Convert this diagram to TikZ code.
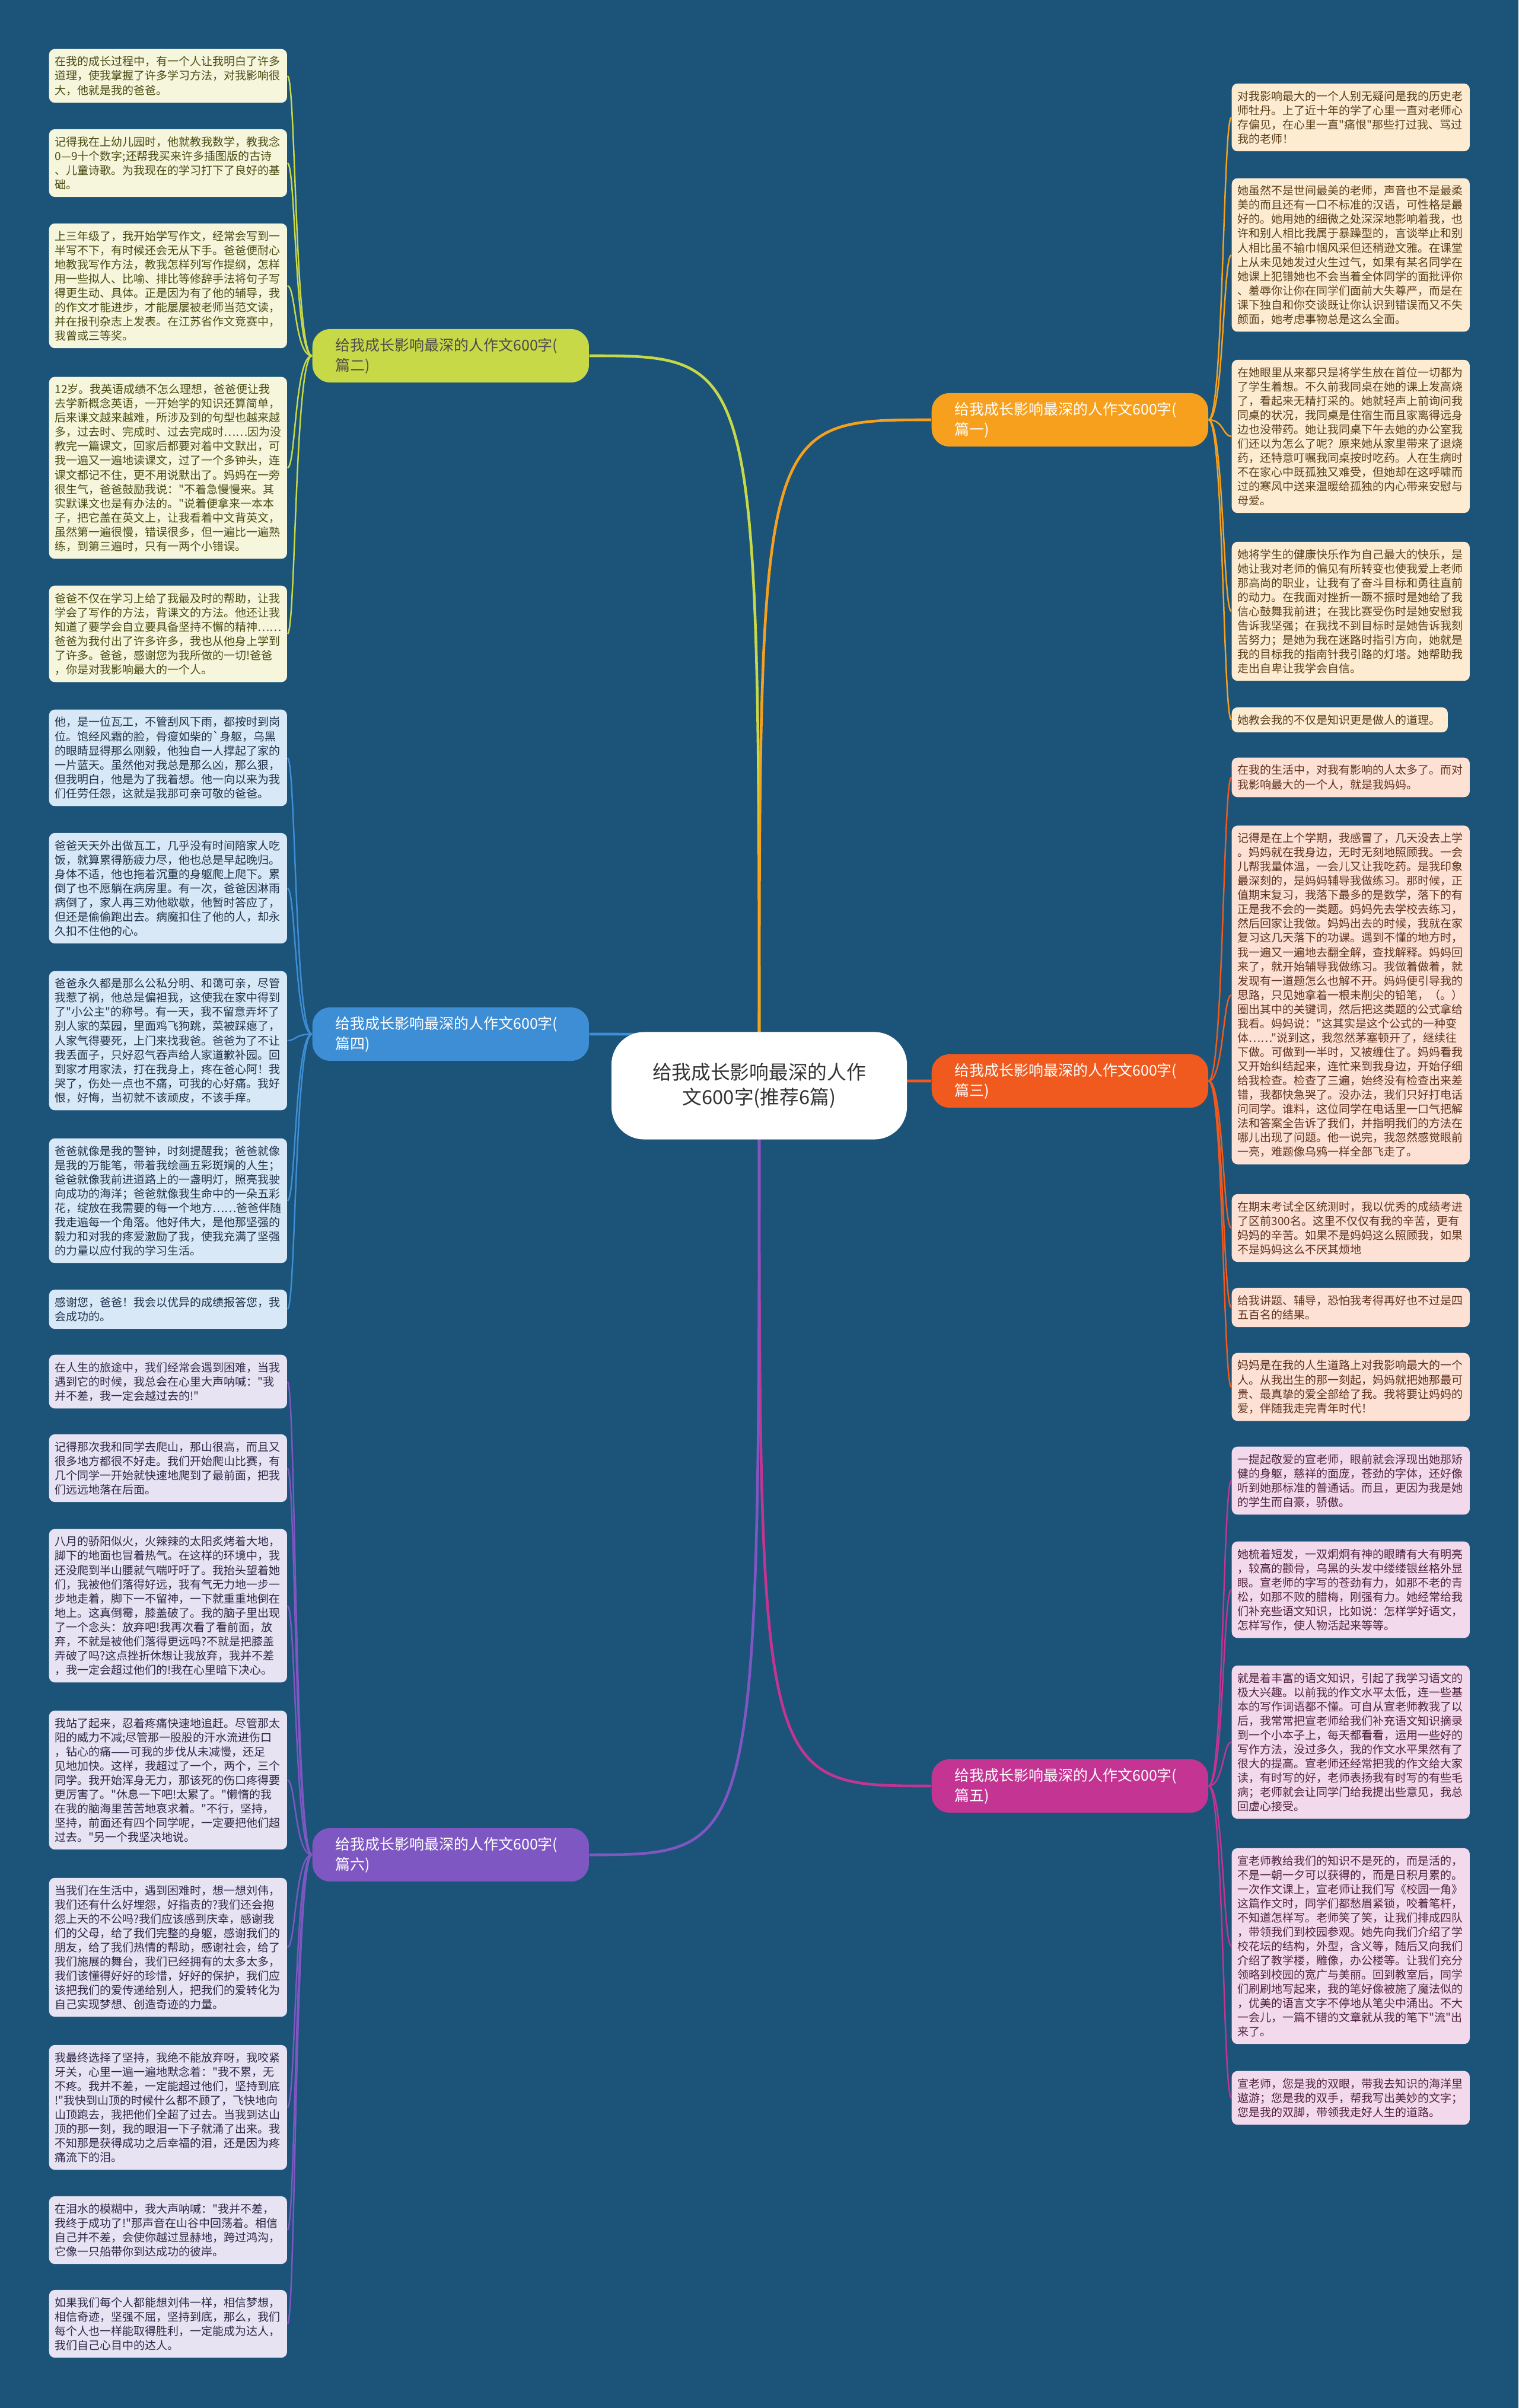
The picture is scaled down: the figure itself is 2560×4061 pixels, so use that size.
\documentclass[tikz,border=0pt]{standalone}
\usepackage{fontspec}
\setmainfont{Noto Sans CJK SC}[Ligatures=TeXOff]
\usetikzlibrary{backgrounds}
\definecolor{mapbg}{RGB}{28,83,120}
\definecolor{limeone}{RGB}{200,217,72}
\definecolor{ambrone}{RGB}{247,160,30}
\definecolor{skyone}{RGB}{62,142,214}
\definecolor{redone}{RGB}{240,90,30}
\definecolor{violone}{RGB}{126,87,194}
\definecolor{rosone}{RGB}{196,52,146}
\definecolor{limeleaf}{RGB}{246,246,220}
\definecolor{ambrleaf}{RGB}{253,236,210}
\definecolor{skyleaf}{RGB}{216,232,246}
\definecolor{redleaf}{RGB}{253,225,212}
\definecolor{violleaf}{RGB}{231,227,243}
\definecolor{rosleaf}{RGB}{243,217,236}

\begin{document}
\begin{tikzpicture}[x=0.01cm, y=-0.01cm,
  leaf/.style={rectangle, rounded corners=2.8pt, text width=3.81cm, inner xsep=0.1cm, inner ysep=3.5pt, align=left, font=\fontsize{5.4pt}{6.83pt}\selectfont},
  leafL/.style={leaf, anchor=west},
  leafR/.style={leaf, anchor=west},
  branch/.style={rectangle, rounded corners=0.3cm, anchor=west, minimum width=4.66cm, minimum height=0.9cm, text width=3.88cm, inner xsep=0.39cm, align=left, font=\fontsize{7.1pt}{9.6pt}\selectfont},
  hub/.style={rectangle, rounded corners=0.55cm, fill=white, minimum width=4.98cm, minimum height=1.81cm, align=center, text=black!80, font=\fontsize{9.3pt}{11.8pt}\selectfont},
  twig/.style={line width=0.7pt},
  limb/.style={line width=1.3pt},
]
\useasboundingbox (0,0) rectangle (2560,4061);
\begin{scope}[on background layer]
  \fill[mapbg] (0,0) rectangle (2560,4061);
\end{scope}

% centre
\node[hub] (hub) at (1280,1831) {给我成长影响最深的人作\\文600字(推荐6篇)};

% branches
\node[branch, fill=limeone, text=black!70] (p2) at (526,600) {给我成长影响最深的人作文600字(\\篇二)};
\node[branch, fill=ambrone, text=white] (p1) at (1570,708) {给我成长影响最深的人作文600字(\\篇一)};
\node[branch, fill=skyone, text=white] (p4) at (526,1744) {给我成长影响最深的人作文600字(\\篇四)};
\node[branch, fill=redone, text=white] (p3) at (1570,1823) {给我成长影响最深的人作文600字(\\篇三)};
\node[branch, fill=rosone, text=white] (p5) at (1570,3012) {给我成长影响最深的人作文600字(\\篇五)};
\node[branch, fill=violone, text=white] (p6) at (526,3128) {给我成长影响最深的人作文600字(\\篇六)};

% left leaves, 篇二
\begin{scope}[every node/.append style={fill=limeleaf, text={rgb,255:red,75;green,75;blue,20}}]
\node[leafL] (p2a) at (82,128) {在我的成长过程中，有一个人让我明白了许多\\道理，使我掌握了许多学习方法，对我影响很\\大，他就是我的爸爸。};
\node[leafL] (p2b) at (82,275) {记得我在上幼儿园时，他就教我数学，教我念\\0—9十个数字;还帮我买来许多插图版的古诗\\、儿童诗歌。为我现在的学习打下了良好的基\\础。};
\node[leafL] (p2c) at (82,482) {上三年级了，我开始学写作文，经常会写到一\\半写不下，有时候还会无从下手。爸爸便耐心\\地教我写作方法，教我怎样列写作提纲，怎样\\用一些拟人、比喻、排比等修辞手法将句子写\\得更生动、具体。正是因为有了他的辅导，我\\的作文才能进步，才能屡屡被老师当范文读，\\并在报刊杂志上发表。在江苏省作文竞赛中，\\我曾或三等奖。};
\node[leafL] (p2d) at (82,789) {12岁。我英语成绩不怎么理想，爸爸便让我\\去学新概念英语，一开始学的知识还算简单，\\后来课文越来越难，所涉及到的句型也越来越\\多，过去时、完成时、过去完成时……因为没\\教完一篇课文，回家后都要对着中文默出，可\\我一遍又一遍地读课文，过了一个多钟头，连\\课文都记不住，更不用说默出了。妈妈在一旁\\很生气，爸爸鼓励我说："不着急慢慢来。其\\实默课文也是有办法的。"说着便拿来一本本\\子，把它盖在英文上，让我看着中文背英文，\\虽然第一遍很慢，错误很多，但一遍比一遍熟\\练，到第三遍时，只有一两个小错误。};
\node[leafL] (p2e) at (82,1069) {爸爸不仅在学习上给了我最及时的帮助，让我\\学会了写作的方法，背课文的方法。他还让我\\知道了要学会自立要具备坚持不懈的精神……\\爸爸为我付出了许多许多，我也从他身上学到\\了许多。爸爸，感谢您为我所做的一切!爸爸\\，你是对我影响最大的一个人。};
\end{scope}

% left leaves, 篇四
\begin{scope}[every node/.append style={fill=skyleaf, text={rgb,255:red,30;green,50;blue,75}}]
\node[leafL] (p4a) at (82,1278) {他，是一位瓦工，不管刮风下雨，都按时到岗\\位。饱经风霜的脸，骨瘦如柴的`身躯，乌黑\\的眼睛显得那么刚毅，他独自一人撑起了家的\\一片蓝天。虽然他对我总是那么凶，那么狠，\\但我明白，他是为了我着想。他一向以来为我\\们任劳任怨，这就是我那可亲可敬的爸爸。};
\node[leafL] (p4b) at (82,1498) {爸爸天天外出做瓦工，几乎没有时间陪家人吃\\饭，就算累得筋疲力尽，他也总是早起晚归。\\身体不适，他也拖着沉重的身躯爬上爬下。累\\倒了也不愿躺在病房里。有一次，爸爸因淋雨\\病倒了，家人再三劝他歇歇，他暂时答应了，\\但还是偷偷跑出去。病魔扣住了他的人，却永\\久扣不住他的心。};
\node[leafL] (p4c) at (82,1755) {爸爸永久都是那么公私分明、和蔼可亲，尽管\\我惹了祸，他总是偏袒我，这使我在家中得到\\了"小公主"的称号。有一天，我不留意弄坏了\\别人家的菜园，里面鸡飞狗跳，菜被踩瘪了，\\人家气得要死，上门来找我爸。爸爸为了不让\\我丢面子，只好忍气吞声给人家道歉补园。回\\到家才用家法，打在我身上，疼在爸心阿！我\\哭了，伤处一点也不痛，可我的心好痛。我好\\恨，好悔，当初就不该顽皮，不该手痒。};
\node[leafL] (p4d) at (82,2025) {爸爸就像是我的警钟，时刻提醒我；爸爸就像\\是我的万能笔，带着我绘画五彩斑斓的人生；\\爸爸就像我前进道路上的一盏明灯，照亮我驶\\向成功的海洋；爸爸就像我生命中的一朵五彩\\花，绽放在我需要的每一个地方……爸爸伴随\\我走遍每一个角落。他好伟大，是他那坚强的\\毅力和对我的疼爱激励了我，使我充满了坚强\\的力量以应付我的学习生活。};
\node[leafL] (p4e) at (82,2208) {感谢您，爸爸！我会以优异的成绩报答您，我\\会成功的。};
\end{scope}

% left leaves, 篇六
\begin{scope}[every node/.append style={fill=violleaf, text={rgb,255:red,45;green,40;blue,70}}]
\node[leafL] (p6a) at (82,2330) {在人生的旅途中，我们经常会遇到困难，当我\\遇到它的时候，我总会在心里大声呐喊："我\\并不差，我一定会越过去的!"};
\node[leafL] (p6b) at (82,2476) {记得那次我和同学去爬山，那山很高，而且又\\很多地方都很不好走。我们开始爬山比赛，有\\几个同学一开始就快速地爬到了最前面，把我\\们远远地落在后面。};
\node[leafL] (p6c) at (82,2708) {八月的骄阳似火，火辣辣的太阳炙烤着大地，\\脚下的地面也冒着热气。在这样的环境中，我\\还没爬到半山腰就气喘吁吁了。我抬头望着她\\们，我被他们落得好远，我有气无力地一步一\\步地走着，脚下一不留神，一下就重重地倒在\\地上。这真倒霉，膝盖破了。我的脑子里出现\\了一个念头：放弃吧!我再次看了看前面，放\\弃，不就是被他们落得更远吗?不就是把膝盖\\弄破了吗?这点挫折休想让我放弃，我并不差\\，我一定会超过他们的!我在心里暗下决心。};
\node[leafL] (p6d) at (82,3002) {我站了起来，忍着疼痛快速地追赶。尽管那太\\阳的威力不减;尽管那一股股的汗水流进伤口\\，钻心的痛——可我的步伐从未减慢，还足\\见地加快。这样，我超过了一个，两个，三个\\同学。我开始浑身无力，那该死的伤口疼得要\\更厉害了。"休息一下吧!太累了。"懒惰的我\\在我的脑海里苦苦地哀求着。"不行，坚持，\\坚持，前面还有四个同学呢，一定要把他们超\\过去。"另一个我坚决地说。};
\node[leafL] (p6e) at (82,3284) {当我们在生活中，遇到困难时，想一想刘伟，\\我们还有什么好埋怨，好指责的?我们还会抱\\怨上天的不公吗?我们应该感到庆幸，感谢我\\们的父母，给了我们完整的身躯，感谢我们的\\朋友，给了我们热情的帮助，感谢社会，给了\\我们施展的舞台，我们已经拥有的太多太多，\\我们该懂得好好的珍惜，好好的保护，我们应\\该把我们的爱传递给别人，把我们的爱转化为\\自己实现梦想、创造奇迹的力量。};
\node[leafL] (p6f) at (82,3554) {我最终选择了坚持，我绝不能放弃呀，我咬紧\\牙关，心里一遍一遍地默念着："我不累，无\\不疼。我并不差，一定能超过他们，坚持到底\\!"我快到山顶的时候什么都不顾了，飞快地向\\山顶跑去，我把他们全超了过去。当我到达山\\顶的那一刻，我的眼泪一下子就涌了出来。我\\不知那是获得成功之后幸福的泪，还是因为疼\\痛流下的泪。};
\node[leafL] (p6g) at (82,3761) {在泪水的模糊中，我大声呐喊："我并不差，\\我终于成功了!"那声音在山谷中回荡着。相信\\自己并不差，会使你越过显赫地，跨过鸿沟，\\它像一只船带你到达成功的彼岸。};
\node[leafL] (p6h) at (82,3919) {如果我们每个人都能想刘伟一样，相信梦想，\\相信奇迹，坚强不屈，坚持到底，那么，我们\\每个人也一样能取得胜利，一定能成为达人，\\我们自己心目中的达人。};
\end{scope}

% right leaves, 篇一
\begin{scope}[every node/.append style={fill=ambrleaf, text={rgb,255:red,90;green,62;blue,25}}]
\node[leafR] (p1a) at (2076,198) {对我影响最大的一个人别无疑问是我的历史老\\师牡丹。上了近十年的学了心里一直对老师心\\存偏见，在心里一直"痛恨"那些打过我、骂过\\我的老师！};
\node[leafR] (p1b) at (2076,430) {她虽然不是世间最美的老师，声音也不是最柔\\美的而且还有一口不标准的汉语，可性格是最\\好的。她用她的细微之处深深地影响着我，也\\许和别人相比我属于暴躁型的，言谈举止和别\\人相比虽不输巾帼风采但还稍逊文雅。在课堂\\上从未见她发过火生过气，如果有某名同学在\\她课上犯错她也不会当着全体同学的面批评你\\、羞辱你让你在同学们面前大失尊严，而是在\\课下独自和你交谈既让你认识到错误而又不失\\颜面，她考虑事物总是这么全面。};
\node[leafR] (p1c) at (2076,736) {在她眼里从来都只是将学生放在首位一切都为\\了学生着想。不久前我同桌在她的课上发高烧\\了，看起来无精打采的。她就轻声上前询问我\\同桌的状况，我同桌是住宿生而且家离得远身\\边也没带药。她让我同桌下午去她的办公室我\\们还以为怎么了呢？原来她从家里带来了退烧\\药，还特意叮嘱我同桌按时吃药。人在生病时\\不在家心中既孤独又难受，但她却在这呼啸而\\过的寒风中送来温暖给孤独的内心带来安慰与\\母爱。};
\node[leafR] (p1d) at (2076,1031) {她将学生的健康快乐作为自己最大的快乐，是\\她让我对老师的偏见有所转变也使我爱上老师\\那高尚的职业，让我有了奋斗目标和勇往直前\\的动力。在我面对挫折一蹶不振时是她给了我\\信心鼓舞我前进；在我比赛受伤时是她安慰我\\告诉我坚强；在我找不到目标时是她告诉我刻\\苦努力；是她为我在迷路时指引方向，她就是\\我的目标我的指南针我引路的灯塔。她帮助我\\走出自卑让我学会自信。};
\node[leafR, text width=3.44cm] (p1e) at (2076,1214) {她教会我的不仅是知识更是做人的道理。};
\end{scope}

% right leaves, 篇三
\begin{scope}[every node/.append style={fill=redleaf, text={rgb,255:red,95;green,50;blue,30}}]
\node[leafR] (p3a) at (2076,1311) {在我的生活中，对我有影响的人太多了。而对\\我影响最大的一个人，就是我妈妈。};
\node[leafR] (p3b) at (2076,1678) {记得是在上个学期，我感冒了，几天没去上学\\。妈妈就在我身边，无时无刻地照顾我。一会\\儿帮我量体温，一会儿又让我吃药。是我印象\\最深刻的，是妈妈辅导我做练习。那时候，正\\值期末复习，我落下最多的是数学，落下的有\\正是我不会的一类题。妈妈先去学校去练习，\\然后回家让我做。妈妈出去的时候，我就在家\\复习这几天落下的功课。遇到不懂的地方时，\\我一遍又一遍地去翻全解，查找解释。妈妈回\\来了，就开始辅导我做练习。我做着做着，就\\发现有一道题怎么也解不开。妈妈便引导我的\\思路，只见她拿着一根未削尖的铅笔，（。）\\圈出其中的关键词，然后把这类题的公式拿给\\我看。妈妈说："这其实是这个公式的一种变\\体……"说到这，我忽然茅塞顿开了，继续往\\下做。可做到一半时，又被缠住了。妈妈看我\\又开始纠结起来，连忙来到我身边，开始仔细\\给我检查。检查了三遍，始终没有检查出来差\\错，我都快急哭了。没办法，我们只好打电话\\问同学。谁料，这位同学在电话里一口气把解\\法和答案全告诉了我们，并指明我们的方法在\\哪儿出现了问题。他一说完，我忽然感觉眼前\\一亮，难题像乌鸦一样全部飞走了。};
\node[leafR] (p3c) at (2076,2071) {在期末考试全区统测时，我以优秀的成绩考进\\了区前300名。这里不仅仅有我的辛苦，更有\\妈妈的辛苦。如果不是妈妈这么照顾我，如果\\不是妈妈这么不厌其烦地};
\node[leafR] (p3d) at (2076,2205) {给我讲题、辅导，恐怕我考得再好也不过是四\\五百名的结果。};
\node[leafR] (p3e) at (2076,2339) {妈妈是在我的人生道路上对我影响最大的一个\\人。从我出生的那一刻起，妈妈就把她那最可\\贵、最真挚的爱全部给了我。我将要让妈妈的\\爱，伴随我走完青年时代！};
\end{scope}

% right leaves, 篇五
\begin{scope}[every node/.append style={fill=rosleaf, text={rgb,255:red,80;green,35;blue,65}}]
\node[leafR] (p5a) at (2076,2497) {一提起敬爱的宣老师，眼前就会浮现出她那矫\\健的身躯，慈祥的面庞，苍劲的字体，还好像\\听到她那标准的普通话。而且，更因为我是她\\的学生而自豪，骄傲。};
\node[leafR] (p5b) at (2076,2681) {她梳着短发，一双炯炯有神的眼睛有大有明亮\\，较高的颧骨，乌黑的头发中缕缕银丝格外显\\眼。宣老师的字写的苍劲有力，如那不老的青\\松，如那不败的腊梅，刚强有力。她经常给我\\们补充些语文知识，比如说：怎样学好语文，\\怎样写作，使人物活起来等等。};
\node[leafR] (p5c) at (2076,2938) {就是着丰富的语文知识，引起了我学习语文的\\极大兴趣。以前我的作文水平太低，连一些基\\本的写作词语都不懂。可自从宣老师教我了以\\后，我常常把宣老师给我们补充语文知识摘录\\到一个小本子上，每天都看看，运用一些好的\\写作方法，没过多久，我的作文水平果然有了\\很大的提高。宣老师还经常把我的作文给大家\\读，有时写的好，老师表扬我有时写的有些毛\\病；老师就会让同学门给我提出些意见，我总\\回虚心接受。};
\node[leafR] (p5d) at (2076,3282) {宣老师教给我们的知识不是死的，而是活的，\\不是一朝一夕可以获得的，而是日积月累的。\\一次作文课上，宣老师让我们写《校园一角》\\这篇作文时，同学们都愁眉紧锁，咬着笔杆，\\不知道怎样写。老师笑了笑，让我们排成四队\\，带领我们到校园参观。她先向我们介绍了学\\校花坛的结构，外型，含义等，随后又向我们\\介绍了教学楼，雕像，办公楼等。让我们充分\\领略到校园的宽广与美丽。回到教室后，同学\\们刷刷地写起来，我的笔好像被施了魔法似的\\，优美的语言文字不停地从笔尖中涌出。不大\\一会儿，一篇不错的文章就从我的笔下"流"出\\来了。};
\node[leafR] (p5e) at (2076,3538) {宣老师，您是我的双眼，带我去知识的海洋里\\遨游；您是我的双手，帮我写出美妙的文字；\\您是我的双脚，带领我走好人生的道路。};
\end{scope}

% connectors
\begin{scope}[on background layer]
  \draw[limb, limeone] (hub.center) .. controls (hub.center |- p2.east) .. (p2.east);
  \draw[limb, ambrone] (hub.center) .. controls (hub.center |- p1.west) .. (p1.west);
  \draw[limb, skyone] (hub.center) .. controls (hub.center |- p4.east) .. (p4.east);
  \draw[limb, redone] (hub.center) .. controls (hub.center |- p3.west) .. (p3.west);
  \draw[limb, rosone] (hub.center) .. controls (hub.center |- p5.west) .. (p5.west);
  \draw[limb, violone] (hub.center) .. controls (hub.center |- p6.east) .. (p6.east);
  \foreach \n in {p2a,p2b,p2c,p2d,p2e}
    \draw[twig, limeone] (p2.west) .. controls +(-29,0) and +(14,0) .. (\n.east);
  \foreach \n in {p4a,p4b,p4c,p4d,p4e}
    \draw[twig, skyone] (p4.west) .. controls +(-29,0) and +(14,0) .. (\n.east);
  \foreach \n in {p6a,p6b,p6c,p6d,p6e,p6f,p6g,p6h}
    \draw[twig, violone] (p6.west) .. controls +(-29,0) and +(14,0) .. (\n.east);
  \foreach \n in {p1a,p1b,p1c,p1d,p1e}
    \draw[twig, ambrone] (p1.east) .. controls +(25,0) and +(-14,0) .. (\n.west);
  \foreach \n in {p3a,p3b,p3c,p3d,p3e}
    \draw[twig, redone] (p3.east) .. controls +(25,0) and +(-14,0) .. (\n.west);
  \foreach \n in {p5a,p5b,p5c,p5d,p5e}
    \draw[twig, rosone] (p5.east) .. controls +(25,0) and +(-14,0) .. (\n.west);
\end{scope}
\end{tikzpicture}
\end{document}
